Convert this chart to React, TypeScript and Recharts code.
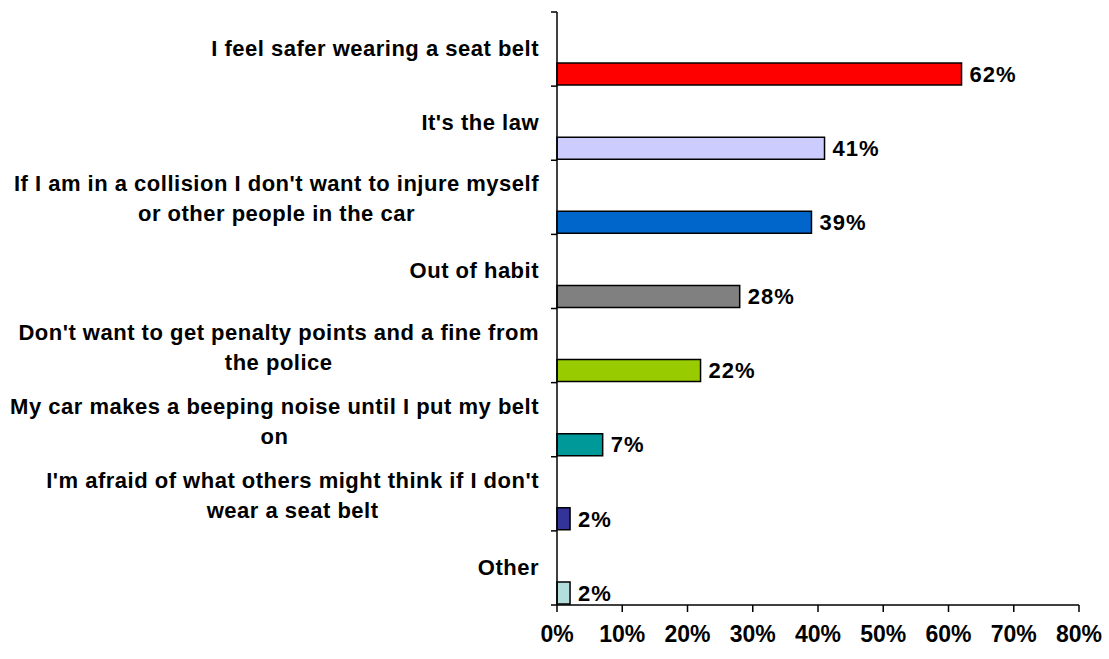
import React from 'react';
import { BarChart, Bar, XAxis, YAxis, Cell, LabelList } from 'recharts';

const categories = [
  'I feel safer wearing a seat belt',
  "It's the law",
  "If I am in a collision I don't want to injure myself\nor other people in the car",
  'Out of habit',
  "Don't want to get penalty points and a fine from\nthe police",
  'My car makes a beeping noise until I put my belt\non',
  "I'm afraid of what others might think if I don't\nwear a seat belt",
  'Other',
];
const values = [62, 41, 39, 28, 22, 7, 2, 2];
const barColors = ['#FF0000', '#CCCCFF', '#0066CC', '#808080', '#99CC00', '#009999', '#333399', '#B4DEDE'];
const xTicks = [0, 10, 20, 30, 40, 50, 60, 70, 80];

const data = categories.map((name, i) => ({ name, value: values[i] }));

const FONT = '"Liberation Sans", Arial, sans-serif';
const FONT_SIZE = 22;
const LETTER_SPACING = 0.5;
const WIDTH = 1109;
const HEIGHT = 659;
const MARGIN = { top: 12, right: 30, left: 0, bottom: 0 };
const X_AXIS_HEIGHT = 54;
const Y_TICK_SIZE = 6;
const Y_TICK_MARGIN = 12;
const BAND = (HEIGHT - MARGIN.top - MARGIN.bottom - X_AXIS_HEIGHT) / categories.length;

let ctx: CanvasRenderingContext2D | null = null;
const measure = (s: string) => {
  if (!ctx) {
    ctx = document.createElement('canvas').getContext('2d');
  }
  if (!ctx) return s.length * FONT_SIZE * 0.55;
  ctx.font = `bold ${FONT_SIZE}px ${FONT}`;
  return ctx.measureText(s).width + LETTER_SPACING * s.length;
};

// category label: wrapped lines centred on each other, block right-aligned to the axis
const CategoryTick = ({ x, y, payload, index }: any) => {
  const lines: string[] = String(payload.value).split('\n');
  const blockWidth = Math.max(...lines.map(measure));
  const cx = x - blockWidth / 2;
  const axisX = x + Y_TICK_MARGIN + Y_TICK_SIZE;
  const lineHeight = 30;
  const centerY = lines.length > 1 ? y + 1 : y - 1;
  const firstY = centerY - ((lines.length - 1) * lineHeight) / 2;
  return (
    <g>
      <line x1={axisX - Y_TICK_SIZE} x2={axisX} y1={y - BAND / 2} y2={y - BAND / 2} stroke="#000" strokeWidth={1.5} />
      {index === categories.length - 1 && (
        <line x1={axisX - Y_TICK_SIZE} x2={axisX} y1={y + BAND / 2} y2={y + BAND / 2} stroke="#000" strokeWidth={1.5} />
      )}
      {lines.map((line, i) => (
        <text
          key={i}
          x={cx}
          y={firstY + i * lineHeight + 8}
          textAnchor="middle"
          fill="#000"
          style={{ fontFamily: FONT, fontSize: FONT_SIZE, fontWeight: 'bold', letterSpacing: LETTER_SPACING }}
        >
          {line}
        </text>
      ))}
    </g>
  );
};

const App = () => {
  return (
    <div style={{ position: 'absolute', left: 0, top: 0, width: WIDTH, height: HEIGHT, background: '#fff' }}>
      <BarChart width={WIDTH} height={HEIGHT} data={data} layout="vertical" margin={MARGIN} barGap={27}>
        <XAxis
          type="number"
          domain={[0, 80]}
          ticks={xTicks}
          interval={0}
          height={X_AXIS_HEIGHT}
          tickFormatter={(v: number) => `${v}%`}
          tickSize={7}
          tickMargin={14}
          axisLine={{ stroke: '#000', strokeWidth: 1.5 }}
          tickLine={{ stroke: '#000', strokeWidth: 1.5 }}
          tick={{ fill: '#000', fontSize: 23, fontWeight: 'bold', fontFamily: FONT }}
        />
        <YAxis
          type="category"
          dataKey="name"
          width={557}
          interval={0}
          tickSize={Y_TICK_SIZE}
          tickMargin={Y_TICK_MARGIN}
          tickLine={false}
          axisLine={{ stroke: '#000', strokeWidth: 1.5 }}
          tick={<CategoryTick />}
        />
        <Bar dataKey={() => 0} barSize={22} fill="none" isAnimationActive={false} legendType="none" />
        <Bar dataKey="value" barSize={22} stroke="#000" strokeWidth={1.5} isAnimationActive={false}>
          {data.map((entry, index) => (
            <Cell key={`cell-${index}`} fill={barColors[index]} />
          ))}
          <LabelList
            dataKey="value"
            position="right"
            offset={8}
            formatter={(v: any) => `${v}%`}
            style={{ fill: '#000', fontSize: FONT_SIZE, fontWeight: 'bold', fontFamily: FONT, letterSpacing: 1 }}
          />
        </Bar>
      </BarChart>
    </div>
  );
};

export default App;
